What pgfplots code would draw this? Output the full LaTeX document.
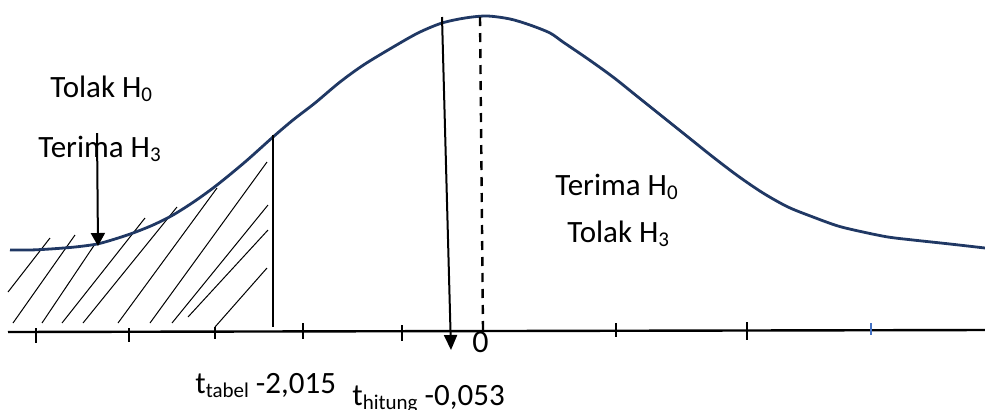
\documentclass[border=0pt]{standalone}
\usepackage{pgfplots}
\pgfplotsset{compat=1.18}
\usetikzlibrary{arrows.meta}
\usepackage{fontspec}
\setmainfont{Carlito}
\definecolor{curvenavy}{RGB}{32,56,100}
\definecolor{tickblue}{RGB}{68,114,196}
\newcommand{\sub}[1]{\raisebox{-0.3ex}{\fontsize{10.5}{11}\selectfont #1}}
\newcommand{\lbl}{\fontsize{15.5}{18}\selectfont}

\begin{document}
\begin{tikzpicture}
\begin{axis}[
    name=ax,
    scale only axis,
    width=492.5pt, height=204.5pt,
    xmin=0, xmax=985, ymin=0, ymax=409,
    y dir=reverse,
    hide axis,
    clip=false,
    unbounded coords=jump,
]
% hatching of the rejection region
\addplot[black, line width=0.5pt] coordinates {
    (8,292) (50,238) (nan,nan)
    (13,323) (75,235) (nan,nan)
    (42,323) (95,244) (nan,nan)
    (62,323) (145,218) (nan,nan)
    (83,323) (177,207) (nan,nan)
    (118,323) (217,188) (nan,nan)
    (150,323) (267,162) (nan,nan)
    (172,323) (268,205) (nan,nan)
    (188,317) (268,230) (nan,nan)
    (215,327) (267,268)
};
% the curve
\addplot[curvenavy, line width=1.4pt, smooth] coordinates {
    (10,250) (30,250) (50,249) (75,247) (97,244) (115,239) (133,233)
    (153,225) (173,215) (195,201) (217,185) (245,162) (273,137) (293,120)
    (315,103) (340,82) (365,64) (400,43) (420,32) (442,23) (465,18)
    (487,16) (510,19) (530,25) (550,33) (563,42) (588,59) (613,77)
    (638,97) (663,117) (688,137) (713,157) (738,176) (763,193) (788,207)
    (813,217) (838,226) (863,232) (888,237) (913,240) (950,244) (985,248)
};
% horizontal axis and ticks
\addplot[black, line width=1.2pt] coordinates {(8,332) (985,330)};
\addplot[black, line width=1pt] coordinates {
    (36,328) (36,343) (nan,nan)
    (129,328) (129,342) (nan,nan)
    (215,327) (215,339) (nan,nan)
    (303,323) (303,339) (nan,nan)
    (402,325) (402,341) (nan,nan)
    (616,323) (616,337) (nan,nan)
    (747,322) (747,340)
};
\addplot[tickblue, line width=1pt] coordinates {(871,323) (871,335)};
% critical value line
\addplot[black, line width=1pt] coordinates {(273,135) (273,327)};
% centre dashed line
\addplot[black, line width=1.2pt, dash pattern=on 4.5pt off 3.5pt] coordinates {(480,17) (483,330)};
% arrows
\addplot[black, line width=1pt, -{Triangle[length=7.5pt,width=6.5pt]}] coordinates {(442,17) (451,350)};
\addplot[black, line width=1pt, -{Triangle[length=6.5pt,width=7pt]}] coordinates {(97,133) (98,246)};
% texts
\node[anchor=base west, inner sep=0pt, font=\lbl] at (axis cs:50,97) {Tolak H\sub{0}};
\node[anchor=base west, inner sep=0pt, font=\lbl] at (axis cs:38,157) {Terima H\sub{3}};
\node[anchor=base west, inner sep=0pt, font=\lbl] at (axis cs:555,195) {Terima H\sub{0}};
\node[anchor=base west, inner sep=0pt, font=\lbl] at (axis cs:567,242) {Tolak H\sub{3}};
\node[anchor=base west, inner sep=0pt, font=\fontsize{16}{18}\selectfont] at (axis cs:472,352) {0};
\node[anchor=base west, inner sep=0pt, font=\lbl] at (axis cs:195,393) {t\sub{tabel} -2,015};
\node[anchor=base west, inner sep=0pt, font=\lbl] at (axis cs:352,405) {t\sub{hitung} -0,053};
\end{axis}
\pgfresetboundingbox
\path[use as bounding box] (ax.south west) rectangle (ax.north east);
\end{tikzpicture}
\end{document}
